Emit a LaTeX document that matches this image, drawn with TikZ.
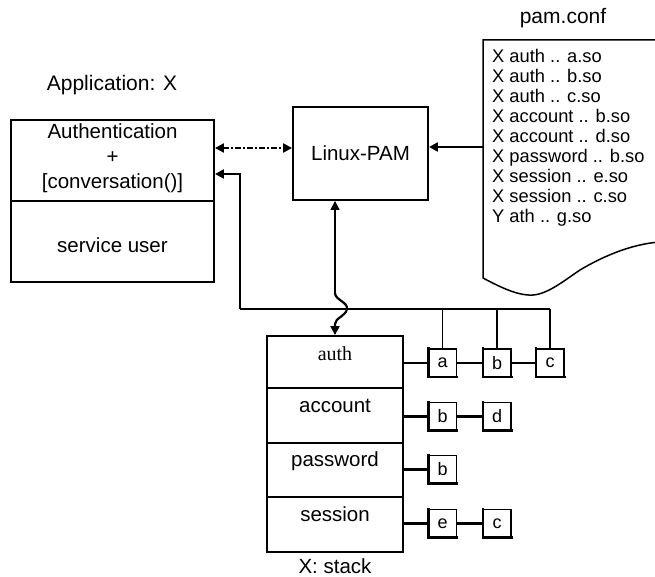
\documentclass[tikz,border=0pt]{standalone}
\usepackage{fontspec}
\setmainfont{Liberation Sans}
\newfontfamily\tnr{Liberation Serif}
\usetikzlibrary{arrows.meta,calc}
\begin{document}
\begin{tikzpicture}[x=1pt,y=-1pt,
  box/.style={draw, line width=1.9pt, inner sep=0pt},
  lbl/.style={font=\fontsize{20.5}{25}\selectfont},
  biglbl/.style={font=\fontsize{21}{25}\selectfont},
  sbox/.style={draw, line width=1.3pt, minimum width=28pt, minimum height=28pt, inner sep=0pt, font=\fontsize{18}{18}\selectfont},
  tip/.style={-{Triangle[length=9pt,width=9pt]}},
  conn/.style={line width=2.5pt},
  thinline/.style={line width=1.1pt}]
\useasboundingbox (0,0) rectangle (655,577);

% Application
\node[biglbl] (apptitle) at (112,85) {Application: X};
\node[box, minimum width=203pt, minimum height=162pt] (app) at (112.5,201) {};
\draw[thinline] (app.west) -- (app.east);
\node[lbl, align=center] (authtxt) at (112.5,158) {Authentication\\+\\{[conversation()]}};
\node[lbl] (svc) at (112.5,245) {service user};

% Linux-PAM
\node[box, lbl, minimum width=135pt, minimum height=93pt] (pam) at (360.5,153.5) {Linux-PAM};

% pam.conf
\node[biglbl] (conftitle) at (563,18) {pam.conf};
\draw[line width=1.5pt] (660,40) -- (483,40) -- (483,278)
  .. controls (500,287) and (518,296) .. (533,295)
  .. controls (548,294) and (565,280) .. (580,270)
  .. controls (600,258) and (630,244) .. (660,242);
\node[anchor=north west, align=left, inner sep=0pt, font=\fontsize{18.3}{20}\selectfont] (conftxt) at (492,49.5)
  {X auth .. a.so\\X auth .. b.so\\X auth .. c.so\\X account .. b.so\\X account .. d.so\\X password .. b.so\\X session .. e.so\\X session .. c.so\\Y ath .. g.so};
\coordinate (confL) at (483,147);
\draw[conn, tip] (confL) -- (confL -| pam.east);

% dashed conversation arrow
\coordinate (dY) at (0,148);
\draw[line width=2.2pt, dash pattern=on 6pt off 2pt on 2pt off 2pt,
  {Triangle[length=9pt,width=9pt]}-{Triangle[length=9pt,width=9pt]}]
  (app.east |- dY) -- (pam.west |- dY);

% stack
\node[box, minimum width=136pt, minimum height=52pt] (sauth) at (335,362) {};
\node[box, minimum width=136pt, minimum height=55pt] (sacct) at (335,415.5) {};
\node[box, minimum width=136pt, minimum height=54pt] (spass) at (335,470) {};
\node[box, minimum width=136pt, minimum height=55pt] (ssess) at (335,524.5) {};
\node[font=\tnr\fontsize{20}{22}\selectfont] (tauth) at ([yshift=-19pt]sauth.north) {auth};
\node[lbl] (tacct) at ([yshift=-19pt]sacct.north) {account};
\node[lbl] (tpass) at ([yshift=-19pt]spass.north) {password};
\node[lbl] (tsess) at ([yshift=-18pt]ssess.north) {session};
\node[lbl] (stacktitle) at (335,566) {X: stack};

% module boxes
\node[sbox] (a1) at (442.5,363) {a};
\node[sbox] (b1) at (497,363) {b};
\node[sbox] (c1) at (550,363) {c};
\node[sbox] (b2) at (442.5,416.5) {b};
\node[sbox] (d2) at (497,416.5) {d};
\node[sbox] (b3) at (442.5,469.5) {b};
\node[sbox] (e4) at (442.5,523.5) {e};
\node[sbox] (c4) at (497,523.5) {c};
\foreach \n in {a1,b1,c1,b2,d2,b3,e4,c4}
  \draw[line width=2.6pt, line cap=rect] ([xshift=0.6pt]\n.north west) -- ([xshift=0.6pt,yshift=0.6pt]\n.south west) -- ([yshift=0.6pt]\n.south east);

\draw[conn] (a1.west -| sauth.east) -- (a1.west);
\draw[conn] (a1.east) -- (b1.west);
\draw[conn] (b1.east) -- (c1.west);
\draw[conn] (b2.west -| sacct.east) -- (b2.west);
\draw[conn] (b2.east) -- (d2.west);
\draw[conn] (b3.west -| spass.east) -- (b3.west);
\draw[conn] (e4.west -| ssess.east) -- (e4.west);
\draw[conn] (e4.east) -- (c4.west);

% bus line to conversation
\coordinate (hl) at (240,309);
\coordinate (ret) at (240,174);
\draw[thinline] (hl) -- (c1.north |- hl);
\draw[thinline] (a1.north |- hl) -- (a1.north);
\draw[line width=2.6pt] (b1.north |- hl) -- (b1.north);
\draw[thinline] (c1.north |- hl) -- (c1.north);
\draw[line width=2.6pt, tip] (hl) -- (ret) -- (app.east |- ret);

% Linux-PAM <-> stack
\coordinate (wg) at (335,293);
\draw[line width=1.6pt, tip] (wg) -- (wg |- pam.south);
\draw[line width=2.2pt, tip] (wg) .. controls (335,300) and (348,302) .. (347,309)
  .. controls (346,316) and (335,318) .. (335,324) -- (sauth.north);
\end{tikzpicture}
\end{document}
